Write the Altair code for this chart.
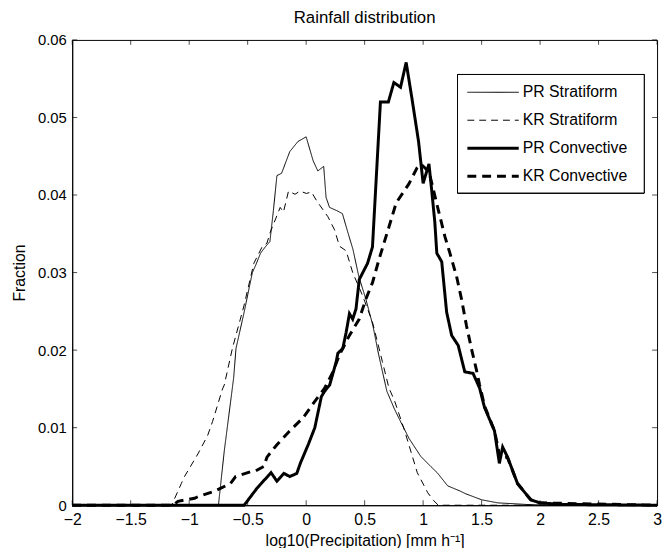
import altair as alt
import pandas as pd

series_names = ["PR Stratiform", "KR Stratiform", "PR Convective", "KR Convective"]

pr_strat_x = [-2.0, -0.75, -0.70, -0.62, -0.60, -0.53, -0.46, -0.43, -0.39, -0.35, -0.31,
              -0.28, -0.25, -0.21, -0.14, -0.07, 0.0, 0.06, 0.10, 0.15, 0.17, 0.20, 0.26,
              0.31, 0.36, 0.40, 0.45, 0.51, 0.57, 0.62, 0.69, 0.755, 0.81, 0.88, 0.98,
              1.065, 1.12, 1.21, 1.32, 1.36, 1.50, 1.64, 1.88, 2.1, 3.0]
pr_strat_y = [0.0, 0.0, 0.0070, 0.0164, 0.0202, 0.0249, 0.0300, 0.0310, 0.0325, 0.0333, 0.0340,
              0.0380, 0.0425, 0.0428, 0.0456, 0.0469, 0.0475, 0.0444, 0.0431, 0.0437, 0.0397, 0.0384, 0.0380,
              0.0376, 0.0350, 0.0330, 0.0295, 0.0266, 0.0232, 0.0194, 0.0147, 0.0124, 0.0107, 0.0086, 0.0063,
              0.0050, 0.0042, 0.0025, 0.0018, 0.0015, 0.0007, 0.0003, 0.0001, 0.0, 0.0]

kr_strat_x = [-2.0, -1.15, -1.067, -1.04, -0.926, -0.842, -0.80, -0.715, -0.70, -0.631, -0.532,
              -0.447, -0.377, -0.335, -0.307, -0.222, -0.194, -0.151, -0.095, -0.053, 0.003,
              0.045, 0.088, 0.144, 0.186, 0.243, 0.285, 0.342, 0.398, 0.483, 0.567, 0.652,
              0.708, 0.755, 0.84, 0.95, 1.04, 1.09, 1.13, 3.0]
kr_strat_y = [0.0, 0.0, 0.0028, 0.0037, 0.0066, 0.0090, 0.0108, 0.0150, 0.0155, 0.0202, 0.0257,
              0.0312, 0.0333, 0.0338, 0.0352, 0.0384, 0.0378, 0.0405, 0.0401, 0.0405, 0.0402,
              0.0404, 0.0393, 0.0381, 0.0372, 0.0355, 0.0334, 0.0328, 0.0300, 0.0270, 0.0236, 0.0185,
              0.0151, 0.0135, 0.0097, 0.0042, 0.0016, 0.0006, 0.0, 0.0]

pr_conv_x = [-2.0, -0.53, -0.42, -0.30, -0.25, -0.19, -0.14, -0.08, -0.05, 0.02, 0.074, 0.13,
             0.158, 0.201, 0.257, 0.271, 0.313, 0.342, 0.370, 0.398, 0.426, 0.454, 0.525, 0.567,
             0.635, 0.703, 0.750, 0.807, 0.855, 0.905, 0.961, 1.0, 1.05, 1.074, 1.10, 1.117,
             1.159, 1.201, 1.244, 1.300, 1.356, 1.427, 1.483, 1.525, 1.610, 1.652, 1.680, 1.722,
             1.807, 1.92, 2.0, 2.2, 3.0]
pr_conv_y = [0.0, 0.0, 0.0022, 0.0042, 0.0031, 0.0041, 0.0037, 0.0041, 0.0054, 0.0079, 0.0100, 0.0140,
             0.0147, 0.0155, 0.0185, 0.0196, 0.0202, 0.0223, 0.0247, 0.0240, 0.0253, 0.0291, 0.0312, 0.0333,
             0.0520, 0.0520, 0.0545, 0.0539, 0.0571, 0.0524, 0.0469, 0.0415, 0.0440, 0.0405, 0.0365, 0.0325,
             0.0314, 0.0249, 0.0219, 0.0206, 0.0172, 0.0170, 0.0151, 0.0126, 0.0096, 0.0054, 0.0075, 0.0062,
             0.0028, 0.0007, 0.0003, 0.0001, 0.0]

kr_conv_x = [-2.0, -1.14, -1.096, -0.954, -0.926, -0.785, -0.729, -0.647, -0.603, -0.478, -0.434,
             -0.363, -0.335, -0.25, -0.145, -0.025, 0.074, 0.158, 0.229, 0.285, 0.370, 0.454,
             0.511, 0.567, 0.623, 0.708, 0.77, 0.877, 0.948, 0.98, 1.05, 1.131, 1.187, 1.229,
             1.286, 1.328, 1.370, 1.413, 1.455, 1.483, 1.525, 1.61, 1.66, 1.72, 1.807, 1.92, 2.0, 3.0]
kr_conv_y = [0.0, 0.0, 0.0005, 0.0009, 0.0011, 0.0018, 0.0022, 0.0028, 0.0037, 0.0043, 0.0044,
             0.0050, 0.0062, 0.0078, 0.0095, 0.0113, 0.0134, 0.0151, 0.0172, 0.0194, 0.0219, 0.0240,
             0.0266, 0.0287, 0.0317, 0.0359, 0.0390, 0.0414, 0.0435, 0.0440, 0.0430, 0.0380, 0.0346, 0.0325,
             0.0295, 0.0266, 0.0232, 0.0202, 0.0175, 0.0155, 0.0128, 0.0096, 0.0060, 0.0062, 0.0028, 0.0007, 0.0003, 0.0]

x_ticks = [-2, -1.5, -1, -0.5, 0, 0.5, 1, 1.5, 2, 2.5, 3]
y_ticks = [0, 0.01, 0.02, 0.03, 0.04, 0.05, 0.06]

# line styles per series
line_width = {"PR Stratiform": 1, "KR Stratiform": 1, "PR Convective": 3, "KR Convective": 3}
line_dash = {"PR Stratiform": [1, 0], "KR Stratiform": [7, 5],
             "PR Convective": [1, 0], "KR Convective": [9, 6]}

rows = []
for name, xs, ys in zip(series_names,
                        [pr_strat_x, kr_strat_x, pr_conv_x, kr_conv_x],
                        [pr_strat_y, kr_strat_y, pr_conv_y, kr_conv_y]):
    for i, (xv, yv) in enumerate(zip(xs, ys)):
        rows.append({"series": name, "x": xv, "y": yv, "order": i, "sw": line_width[name]})
df = pd.DataFrame(rows)

W, H = 592, 471
FONT = "Liberation Sans"

xscale = alt.Scale(domain=[-2, 3], nice=False, zero=False)
yscale = alt.Scale(domain=[0, 0.06], nice=False, zero=False)
x_axis = alt.Axis(values=x_ticks, format="~g", title="log10(Precipitation) [mm h⁻¹]",
                  ticks=False, grid=False, labelPadding=7, titlePadding=5, labelFontSize=16,
                  labelFlush=False, labelOverlap=False)
y_axis = alt.Axis(values=y_ticks, format="~g", title="Fraction",
                  ticks=False, grid=False, labelPadding=6, titlePadding=10, labelFontSize=15,
                  labelFlush=False, labelOverlap=False)

lines = alt.Chart(df).mark_line(color="black", strokeCap="butt", strokeJoin="miter").encode(
    x=alt.X("x:Q", scale=xscale, axis=x_axis),
    y=alt.Y("y:Q", scale=yscale, axis=y_axis),
    strokeDash=alt.StrokeDash("series:N",
                              scale=alt.Scale(domain=series_names,
                                              range=[line_dash[s] for s in series_names]),
                              legend=None),
    strokeWidth=alt.StrokeWidth("sw:Q", scale=None, legend=None),
    order="order:Q",
    detail="series:N",
)

# inward ticks on all four sides (MATLAB box style)
xt = pd.DataFrame({"x": x_ticks})
yt = pd.DataFrame({"y": y_ticks})
tick_bottom = alt.Chart(xt).mark_tick(color="black", orient="vertical", size=5, thickness=1).encode(
    x=alt.X("x:Q", scale=xscale, axis=x_axis), y=alt.value(H - 2.5))
tick_top = alt.Chart(xt).mark_tick(color="black", orient="vertical", size=5, thickness=1).encode(
    x=alt.X("x:Q", scale=xscale, axis=x_axis), y=alt.value(2.5))
tick_left = alt.Chart(yt).mark_tick(color="black", orient="horizontal", size=5, thickness=1).encode(
    y=alt.Y("y:Q", scale=yscale, axis=y_axis), x=alt.value(2.5))
tick_right = alt.Chart(yt).mark_tick(color="black", orient="horizontal", size=5, thickness=1).encode(
    y=alt.Y("y:Q", scale=yscale, axis=y_axis), x=alt.value(W - 2.5))

# boxed legend
LX0, LX1, LY0, LY1 = 390, 579, 35, 155
row_y = [53, 81.3, 109.7, 138]
legend_layers = [
    alt.Chart(pd.DataFrame({"series": series_names})).mark_rect(
        fill="white", stroke="black", strokeWidth=1).encode(
        x=alt.value(LX0), x2=alt.value(LX1), y=alt.value(LY0), y2=alt.value(LY1))
]
for s, ry in zip(series_names, row_y):
    one = pd.DataFrame({"series": [s]})
    legend_layers.append(
        alt.Chart(one).mark_rule(color="black", strokeCap="butt",
                                 strokeWidth=line_width[s], strokeDash=line_dash[s]).encode(
            x=alt.value(LX0 + 10), x2=alt.value(LX0 + 62), y=alt.value(ry)))
    legend_layers.append(
        alt.Chart(one).mark_text(align="left", baseline="middle", font=FONT, fontSize=16,
                                 color="black").encode(
            x=alt.value(LX0 + 66), y=alt.value(ry), text="series:N"))

chart = alt.layer(lines, tick_bottom, tick_top, tick_left, tick_right, *legend_layers).properties(
    width=W, height=H,
    title=alt.TitleParams("Rainfall distribution", font=FONT, fontSize=17,
                          fontWeight="normal", color="black", offset=6),
    autosize=alt.AutoSizeParams(type="none"),
    padding={"left": 65, "top": 29, "right": 5, "bottom": 40},
    background="white",
).configure_view(stroke="black", strokeWidth=1).configure_axis(
    labelFont=FONT, labelColor="black",
    titleFont=FONT, titleFontSize=16, titleColor="black", titleFontWeight="normal",
    domainColor="black", domainWidth=1,
)

chart.save("out.html", embed_options={"renderer": "svg", "actions": False})
